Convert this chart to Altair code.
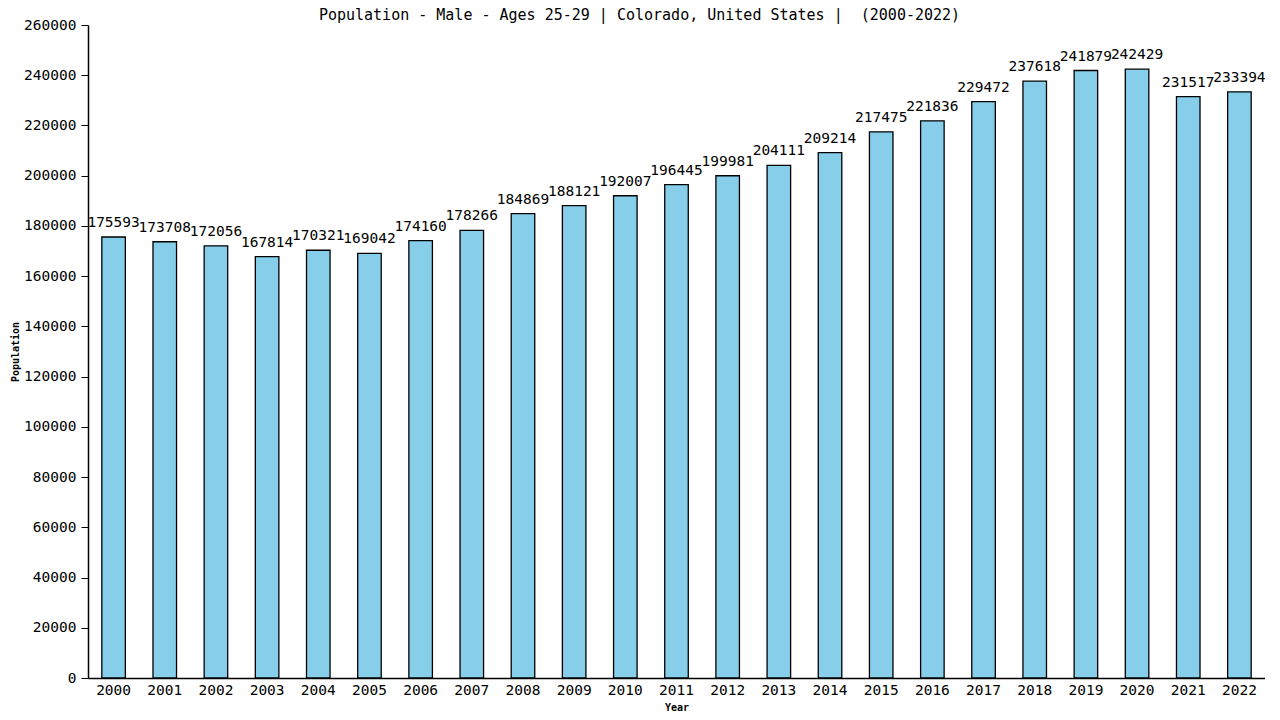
import altair as alt
import pandas as pd

years = [str(y) for y in range(2000, 2023)]
values = [175593, 173708, 172056, 167814, 170321, 169042, 174160, 178266, 184869,
          188121, 192007, 196445, 199981, 204111, 209214, 217475, 221836, 229472,
          237618, 241879, 242429, 231517, 233394]

df = pd.DataFrame({"Year": years, "Population": values})
FONT = "DejaVu Sans Mono"

base = alt.Chart(df).encode(
    x=alt.X("Year:N", sort=years,
            scale=alt.Scale(paddingInner=0.54, paddingOuter=0.27),
            axis=alt.Axis(title="Year", labelAngle=0, labelFont=FONT, labelFontSize=14.5,
                          labelColor="black", titleFont=FONT, titleFontSize=10,
                          titleFontWeight="bold", titleColor="black", domainColor="black",
                          ticks=False, labelPadding=5, titlePadding=6, domainWidth=1.5)),
)

bars = base.mark_bar(color="#87CEEB", stroke="black", strokeWidth=1.3).encode(
    y=alt.Y("Population:Q", scale=alt.Scale(domain=[0, 260000], nice=False),
            axis=alt.Axis(title="Population", values=list(range(0, 260001, 20000)),
                          labelFont=FONT, labelFontSize=14.5, labelColor="black",
                          titleFont=FONT, titleFontSize=10, titleFontWeight="bold",
                          titleColor="black", domainColor="black", tickColor="black",
                          tickSize=7, grid=False, labelPadding=5,
                          titlePadding=3, domainWidth=1.5, format="d")),
)

labels = base.mark_text(font=FONT, fontSize=14.5, color="black", baseline="bottom",
                        dy=-7).encode(
    y="Population:Q", text=alt.Text("Population:Q", format="d"))

chart = alt.layer(bars, labels).properties(
    width=1177, height=653,
    title=alt.TitleParams("Population - Male - Ages 25-29 | Colorado, United States |\u00a0\u00a0(2000-2022)",
                          font=FONT, fontSize=15, fontWeight="normal", color="black",
                          anchor="middle", dx=-37, offset=-6),
    autosize=alt.AutoSizeParams(type="none"),
    padding={"left": 80, "top": 17, "right": 0, "bottom": 35},
).configure_view(stroke=None)

chart.save("out.html", embed_options={"renderer": "svg", "actions": False})
